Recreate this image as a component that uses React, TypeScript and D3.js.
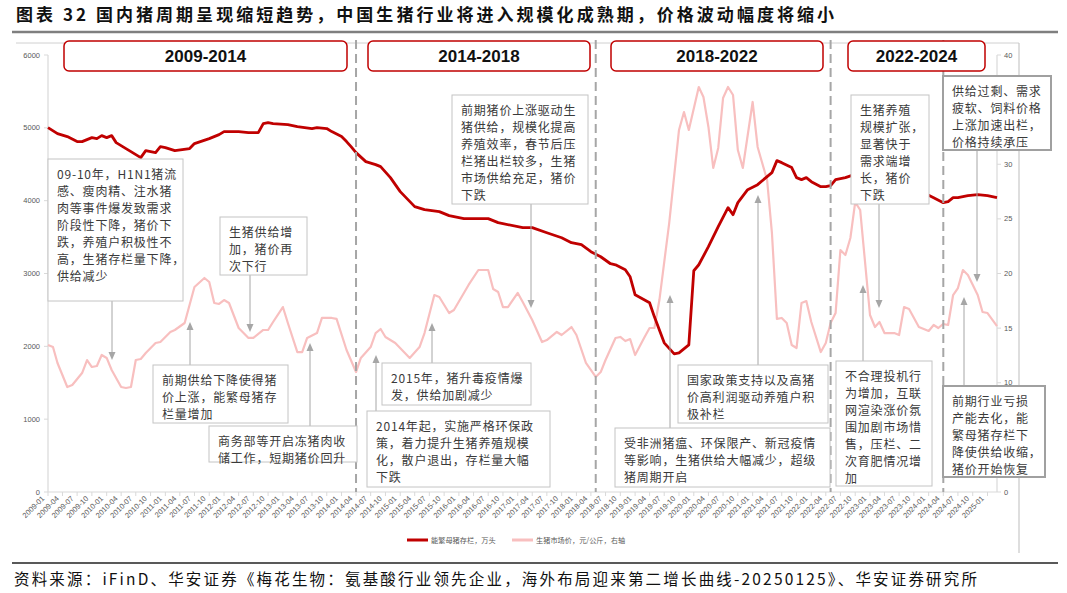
import React from "react";
import * as d3 from "d3";

const W = 1067;
const H = 593;

// 能繁母猪存栏，万头（左轴）
const sowSeries: [string, number][] = [
  ["2009-01", 5003], ["2009-03", 4921], ["2009-05", 4880], ["2009-07", 4811], ["2009-08", 4811],
  ["2009-10", 4866], ["2009-11", 4852], ["2009-12", 4893], ["2010-01", 4866], ["2010-02", 4893],
  ["2010-03", 4797], ["2010-05", 4715], ["2010-06", 4674], ["2010-08", 4591], ["2010-09", 4687],
  ["2010-11", 4660], ["2010-12", 4742], ["2011-01", 4729], ["2011-03", 4687], ["2011-06", 4715],
  ["2011-07", 4784], ["2011-10", 4852], ["2011-12", 4907], ["2012-01", 4948], ["2012-04", 4948],
  ["2012-06", 4935], ["2012-08", 4935], ["2012-09", 5058], ["2012-10", 5072], ["2012-11", 5058],
  ["2013-02", 5045], ["2013-04", 5017], ["2013-07", 4990], ["2013-08", 5003], ["2013-10", 4990],
  ["2013-11", 4948], ["2014-01", 4880], ["2014-02", 4811], ["2014-03", 4742], ["2014-04", 4660],
  ["2014-06", 4536], ["2014-08", 4495], ["2014-09", 4467], ["2014-11", 4316], ["2015-01", 4124],
  ["2015-04", 3918], ["2015-06", 3876], ["2015-09", 3849], ["2015-11", 3794], ["2016-02", 3753],
  ["2016-07", 3753], ["2016-09", 3698], ["2017-02", 3629], ["2017-04", 3629], ["2017-07", 3560],
  ["2017-10", 3491], ["2017-12", 3423], ["2018-02", 3395], ["2018-04", 3299], ["2018-06", 3230],
  ["2018-08", 3134], ["2018-09", 3120], ["2018-11", 3052], ["2018-12", 2955], ["2019-01", 2708],
  ["2019-04", 2598], ["2019-05", 2405], ["2019-07", 2048], ["2019-09", 1897], ["2019-10", 1911],
  ["2019-12", 2021], ["2020-01", 3038], ["2020-02", 3120], ["2020-04", 3368], ["2020-06", 3643],
  ["2020-08", 3904], ["2020-09", 3808], ["2020-10", 3973], ["2020-12", 4151], ["2021-02", 4220],
  ["2021-04", 4330], ["2021-05", 4385], ["2021-06", 4550], ["2021-07", 4522], ["2021-09", 4454],
  ["2021-10", 4316], ["2021-11", 4289], ["2021-12", 4316], ["2022-01", 4261], ["2022-03", 4192],
  ["2022-04", 4192], ["2022-05", 4206], ["2022-06", 4289], ["2022-08", 4316], ["2022-11", 4385],
  ["2022-12", 4371], ["2023-03", 4289], ["2023-05", 4247], ["2023-06", 4289], ["2023-08", 4234],
  ["2023-11", 4192], ["2023-12", 4110], ["2024-02", 4041], ["2024-04", 3973], ["2024-05", 3986],
  ["2024-06", 4041], ["2024-07", 4041], ["2024-09", 4069], ["2024-11", 4082], ["2025-01", 4069],
  ["2025-03", 4041],
];

// 生猪市场价，元/公斤（右轴）
const priceSeries: [string, number][] = [
  ["2009-01", 13.46], ["2009-02", 13.27], ["2009-03", 11.81], ["2009-05", 9.61], ["2009-06", 9.79],
  ["2009-08", 10.89], ["2009-09", 12.08], ["2009-10", 11.44], ["2009-11", 11.53], ["2009-12", 12.54],
  ["2010-01", 12.27], ["2010-02", 11.17], ["2010-04", 9.61], ["2010-05", 9.52], ["2010-06", 9.61],
  ["2010-07", 12.08], ["2010-08", 12.17], ["2010-09", 12.72], ["2010-11", 13.64], ["2010-12", 13.73],
  ["2011-02", 14.65], ["2011-03", 14.83], ["2011-05", 15.47], ["2011-07", 18.76], ["2011-09", 19.59],
  ["2011-10", 19.22], ["2011-11", 17.3], ["2011-12", 17.21], ["2012-01", 17.57], ["2012-02", 17.3],
  ["2012-04", 15.01], ["2012-06", 14.1], ["2012-07", 14.1], ["2012-09", 14.83], ["2012-10", 14.83],
  ["2012-11", 15.56], ["2013-01", 16.93], ["2013-02", 15.47], ["2013-04", 12.81], ["2013-05", 12.81],
  ["2013-06", 14.1], ["2013-08", 14.55], ["2013-09", 15.93], ["2013-11", 15.93], ["2013-12", 15.84],
  ["2014-02", 13.0], ["2014-04", 10.98], ["2014-05", 12.27], ["2014-07", 13.27], ["2014-08", 14.55],
  ["2014-09", 14.92], ["2014-10", 14.19], ["2014-12", 13.64], ["2015-03", 12.27], ["2015-05", 13.27],
  ["2015-06", 14.55], ["2015-08", 18.03], ["2015-09", 17.85], ["2015-11", 16.38], ["2015-12", 16.66],
  ["2016-02", 18.22], ["2016-03", 18.95], ["2016-05", 20.32], ["2016-07", 20.32], ["2016-08", 18.58],
  ["2016-09", 18.31], ["2016-10", 16.93], ["2016-11", 16.93], ["2017-01", 18.22], ["2017-02", 17.39],
  ["2017-04", 15.74], ["2017-06", 13.73], ["2017-07", 13.91], ["2017-09", 14.65], ["2017-10", 14.37],
  ["2017-12", 15.1], ["2018-01", 14.37], ["2018-03", 11.81], ["2018-05", 10.53], ["2018-06", 10.98],
  ["2018-07", 12.08], ["2018-09", 14.1], ["2018-10", 14.19], ["2018-11", 13.82], ["2018-12", 14.0],
  ["2019-01", 12.54], ["2019-03", 14.19], ["2019-04", 15.01], ["2019-05", 15.01], ["2019-06", 17.57],
  ["2019-08", 24.62], ["2019-10", 33.14], ["2019-11", 34.78], ["2019-12", 33.14], ["2020-02", 37.07],
  ["2020-03", 36.16], ["2020-04", 33.41], ["2020-05", 29.66], ["2020-06", 31.49], ["2020-07", 36.06],
  ["2020-08", 37.07], ["2020-09", 36.34], ["2020-10", 31.3], ["2020-11", 29.66], ["2021-01", 35.7],
  ["2021-02", 31.58], ["2021-04", 28.56], ["2021-05", 23.71], ["2021-06", 15.84], ["2021-07", 15.93],
  ["2021-08", 15.47], ["2021-09", 13.46], ["2021-10", 13.18], ["2021-11", 17.3], ["2021-12", 17.48],
  ["2022-01", 15.56], ["2022-03", 12.81], ["2022-04", 13.64], ["2022-05", 15.47], ["2022-06", 16.38],
  ["2022-07", 22.15], ["2022-08", 21.69], ["2022-09", 23.25], ["2022-10", 26.54], ["2022-11", 25.81],
  ["2023-01", 16.2], ["2023-02", 15.1], ["2023-03", 15.56], ["2023-04", 14.55], ["2023-06", 14.55],
  ["2023-07", 14.37], ["2023-08", 16.93], ["2023-09", 16.75], ["2023-11", 15.1], ["2024-01", 14.74],
  ["2024-02", 15.29], ["2024-03", 15.01], ["2024-04", 15.38], ["2024-05", 15.29], ["2024-06", 18.03],
  ["2024-07", 18.67], ["2024-08", 20.32], ["2024-09", 19.86], ["2024-11", 18.03], ["2024-12", 16.48],
  ["2025-01", 16.38], ["2025-03", 15.19],
];

const leftTicks = [0, 1000, 2000, 3000, 4000, 5000, 6000];
const rightTicks = [0, 5, 10, 15, 20, 25, 30, 35, 40];
const xStart = "2009-01";
const xEnd = "2025-03";
const xLastLabel = "2025-01";
const periodDividers = ["2014-04", "2018-05", "2022-05", "2024-04"];
const periodLabels = ["2009-2014", "2014-2018", "2018-2022", "2022-2024"];
const seriesNames = ["能繁母猪存栏，万头", "生猪市场价，元/公斤，右轴"];

const titleText = "图表 32 国内猪周期呈现缩短趋势，中国生猪行业将进入规模化成熟期，价格波动幅度将缩小";
const sourceText = "资料来源：iFinD、华安证券《梅花生物：氨基酸行业领先企业，海外布局迎来第二增长曲线-20250125》、华安证券研究所";

type Note = {
  x: number; y: number; w: number; h: number; lines: string[];
  ax: number; ay1: number; ay2: number; strong?: boolean;
};

const notes: Note[] = [
  { x: 48, y: 159, w: 135, h: 142, ax: 112, ay1: 301, ay2: 360,
    lines: ["09-10年，H1N1猪流", "感、瘦肉精、注水猪", "肉等事件爆发致需求", "阶段性下降，猪价下", "跌，养殖户积极性不", "高，生猪存栏量下降，", "供给减少"] },
  { x: 220, y: 217, w: 87, h: 58, ax: 250, ay1: 275, ay2: 332,
    lines: ["生猪供给增", "加，猪价再", "次下行"] },
  { x: 153, y: 365, w: 135, h: 58, ax: 190, ay1: 365, ay2: 322,
    lines: ["前期供给下降使得猪", "价上涨，能繁母猪存", "栏量增加"] },
  { x: 209, y: 426, w: 148, h: 36, ax: 310, ay1: 426, ay2: 343,
    lines: ["商务部等开启冻猪肉收", "储工作，短期猪价回升"] },
  { x: 452, y: 95, w: 136, h: 109, ax: 531, ay1: 204, ay2: 308,
    lines: ["前期猪价上涨驱动生", "猪供给，规模化提高", "养殖效率，春节后压", "栏猪出栏较多，生猪", "市场供给充足，猪价", "下跌"] },
  { x: 382, y: 363, w: 149, h: 42, ax: 432, ay1: 363, ay2: 323,
    lines: ["2015年，猪升毒疫情爆", "发，供给加剧减少"] },
  { x: 367, y: 411, w: 183, h: 76, ax: 376, ay1: 411, ay2: 355,
    lines: ["2014年起，实施严格环保政", "策，着力提升生猪养殖规模", "化，散户退出，存栏量大幅", "下跌"] },
  { x: 678, y: 365, w: 150, h: 58, ax: 758, ay1: 365, ay2: 195,
    lines: ["国家政策支持以及高猪", "价高利润驱动养殖户积", "极补栏"] },
  { x: 615, y: 428, w: 215, h: 59, ax: 670, ay1: 428, ay2: 295,
    lines: ["受非洲猪瘟、环保限产、新冠疫情", "等影响，生猪供给大幅减少，超级", "猪周期开启"] },
  { x: 851, y: 95, w: 78, h: 109, ax: 879, ay1: 204, ay2: 308,
    lines: ["生猪养殖", "规模扩张，", "显著快于", "需求端增", "长，猪价", "下跌"] },
  { x: 836, y: 361, w: 96, h: 125, ax: 863, ay1: 361, ay2: 285,
    lines: ["不合理投机行", "为增加，互联", "网渲染涨价氛", "围加剧市场惜", "售，压栏、二", "次育肥情况增", "加"] },
  { x: 943, y: 76, w: 108, h: 74, ax: 977, ay1: 150, ay2: 282, strong: true,
    lines: ["供给过剩、需求", "疲软、饲料价格", "上涨加速出栏，", "价格持续承压"] },
  { x: 943, y: 386, w: 102, h: 91, ax: 964, ay1: 386, ay2: 297, strong: true,
    lines: ["前期行业亏损", "产能去化，能", "繁母猪存栏下", "降使供给收缩，", "猪价开始恢复"] },
];

const headerBoxes = [
  { x: 64, w: 283 },
  { x: 368, w: 222 },
  { x: 611, w: 212 },
  { x: 848, w: 137 },
];

const parse = d3.timeParse("%Y-%m");
const fmt = d3.timeFormat("%Y-%m");

const PL = 48, PR = 997, PT = 55, PB = 492;

// a label that sits under an annotation box is hidden by it in the reference
function covered(px: number, py: number) {
  return notes.some((n) => px >= n.x && px <= n.x + n.w && py >= n.y && py <= n.y + n.h);
}

export default function App() {
  const x = d3.scaleTime().domain([parse(xStart)!, parse(xEnd)!]).range([PL, PR]);
  const yL = d3.scaleLinear().domain([0, 6000]).range([PB, PT]);
  const yR = d3.scaleLinear().domain([0, 40]).range([PB, PT]);

  const sowLine = d3.line<[string, number]>()
    .x((d) => x(parse(d[0])!))
    .y((d) => yL(d[1]));
  const priceLine = d3.line<[string, number]>()
    .x((d) => x(parse(d[0])!))
    .y((d) => yR(d[1]));

  const xTicks = d3.timeMonth.every(3)!.range(parse(xStart)!, d3.timeMonth.offset(parse(xLastLabel)!, 1));

  const axisFont = "'Liberation Sans', Arial, sans-serif";
  const cjk = "'Noto Sans CJK SC', sans-serif";
  const axisColor = "#595959";
  const lineColor = "#D9D9D9";

  return (
    <svg width={W} height={H} viewBox={`0 0 ${W} ${H}`}
      style={{ position: "absolute", left: 0, top: 0, background: "#fff" }}>
      <rect x={0} y={0} width={W} height={H} fill="#fff" />
      {/* title */}
      <text x={16} y={21} fontFamily={cjk} fontWeight={700} fontSize={17} fill="#111"
        textLength={818} lengthAdjust="spacing">{titleText}</text>
      <line x1={12} x2={1058} y1={32} y2={32} stroke="#7F7F7F" strokeWidth={2.5} />

      {/* chart frame */}
      <line x1={16} x2={1019} y1={43} y2={43} stroke="#D0D0D0" strokeWidth={1} />
      <line x1={1019} x2={1019} y1={43} y2={553} stroke="#C8C8C8" strokeWidth={1.2} />

      {/* axes */}
      <line x1={PL} x2={PL} y1={PT} y2={PB} stroke={lineColor} strokeWidth={1.2} />
      <line x1={PR} x2={PR} y1={PT} y2={PB} stroke={lineColor} strokeWidth={1.2} />
      <line x1={PL} x2={PR} y1={PB} y2={PB} stroke={lineColor} strokeWidth={1.2} />
      {leftTicks.map((t) => (
        <g key={"l" + t}>
          <line x1={PL - 4} x2={PL} y1={yL(t)} y2={yL(t)} stroke={lineColor} />
          <text x={PL - 8} y={yL(t) + 2.5} textAnchor="end" fontFamily={axisFont} fontSize={7.5} fill={axisColor}>{t}</text>
        </g>
      ))}
      {rightTicks.map((t) => (
        <g key={"r" + t}>
          <line x1={PR} x2={PR + 4} y1={yR(t)} y2={yR(t)} stroke={lineColor} />
          {!covered(PR + 10, yR(t)) && (
            <text x={PR + 7} y={yR(t) + 2.5} textAnchor="start" fontFamily={axisFont} fontSize={7.5} fill={axisColor}>{t}</text>
          )}
        </g>
      ))}
      {xTicks.map((d) => {
        const xx = x(d);
        return (
          <g key={"x" + fmt(d)}>
            <line x1={xx} x2={xx} y1={PB} y2={PB + 4} stroke={lineColor} />
            <text transform={`translate(${xx - 3},${PB + 7}) rotate(-45)`} textAnchor="end"
              fontFamily={axisFont} fontSize={7.5} fill={axisColor}>{fmt(d)}</text>
          </g>
        );
      })}

      {/* series */}
      <path d={priceLine(priceSeries)!} fill="none" stroke="#F8BFBF" strokeWidth={2.2} strokeLinejoin="round" />
      <path d={sowLine(sowSeries)!} fill="none" stroke="#C00000" strokeWidth={2.8} strokeLinejoin="round" />

      {/* period dividers */}
      {periodDividers.map((p) => (
        <line key={p} x1={x(parse(p)!)} x2={x(parse(p)!)} y1={40} y2={PB}
          stroke="#A6A6A6" strokeWidth={2} strokeDasharray="9 5" />
      ))}

      {/* header boxes */}
      {headerBoxes.map((b, i) => (
        <g key={"h" + i}>
          <rect x={b.x} y={41} width={b.w} height={30} rx={5} ry={5} fill="#fff" stroke="#C00000" strokeWidth={1.5} />
          <text x={b.x + b.w / 2} y={62} textAnchor="middle" fontFamily={axisFont} fontWeight={700}
            fontSize={17} fill="#111">{periodLabels[i]}</text>
        </g>
      ))}

      {/* annotation arrows */}
      {notes.map((n, i) => {
        const down = n.ay2 > n.ay1;
        const tip = n.ay2;
        const base = down ? tip - 8 : tip + 8;
        return (
          <g key={"n" + i}>
            <line x1={n.ax} x2={n.ax} y1={n.ay1} y2={base} stroke="#A6A6A6" strokeWidth={1} />
            <path d={`M${n.ax - 3.5},${base} L${n.ax + 3.5},${base} L${n.ax},${tip} Z`} fill="#A6A6A6" />
          </g>
        );
      })}
      {/* annotation boxes */}
      {notes.map((n, i) => (
        <g key={"b" + i}>
          <rect x={n.x} y={n.y} width={n.w} height={n.h} fill="#fff"
            stroke={n.strong ? "#A0A0A0" : "#C4C4C4"} strokeWidth={n.strong ? 2 : 1} />
          {n.lines.map((l, j) => (
            <text key={j} x={n.x + 9} y={n.y + 19.5 + j * 17} fontFamily={cjk} fontSize={12}
              letterSpacing={0.8} fill="#3A3A3A">{l}</text>
          ))}
        </g>
      ))}

      {/* legend */}
      <line x1={407} x2={428} y1={540} y2={540} stroke="#C00000" strokeWidth={3} />
      <text x={431} y={542.5} fontFamily={cjk} fontSize={7.2} fill={axisColor}>{seriesNames[0]}</text>
      <line x1={512} x2={533} y1={540} y2={540} stroke="#F8BFBF" strokeWidth={3} />
      <text x={536} y={542.5} fontFamily={cjk} fontSize={7.2} fill={axisColor}>{seriesNames[1]}</text>

      {/* source */}
      <line x1={12} x2={1058} y1={563} y2={563} stroke="#222" strokeWidth={1.5} />
      <text x={14} y={585} fontFamily={cjk} fontSize={15.5} fill="#111"
        textLength={963} lengthAdjust="spacing">{sourceText}</text>
    </svg>
  );
}
